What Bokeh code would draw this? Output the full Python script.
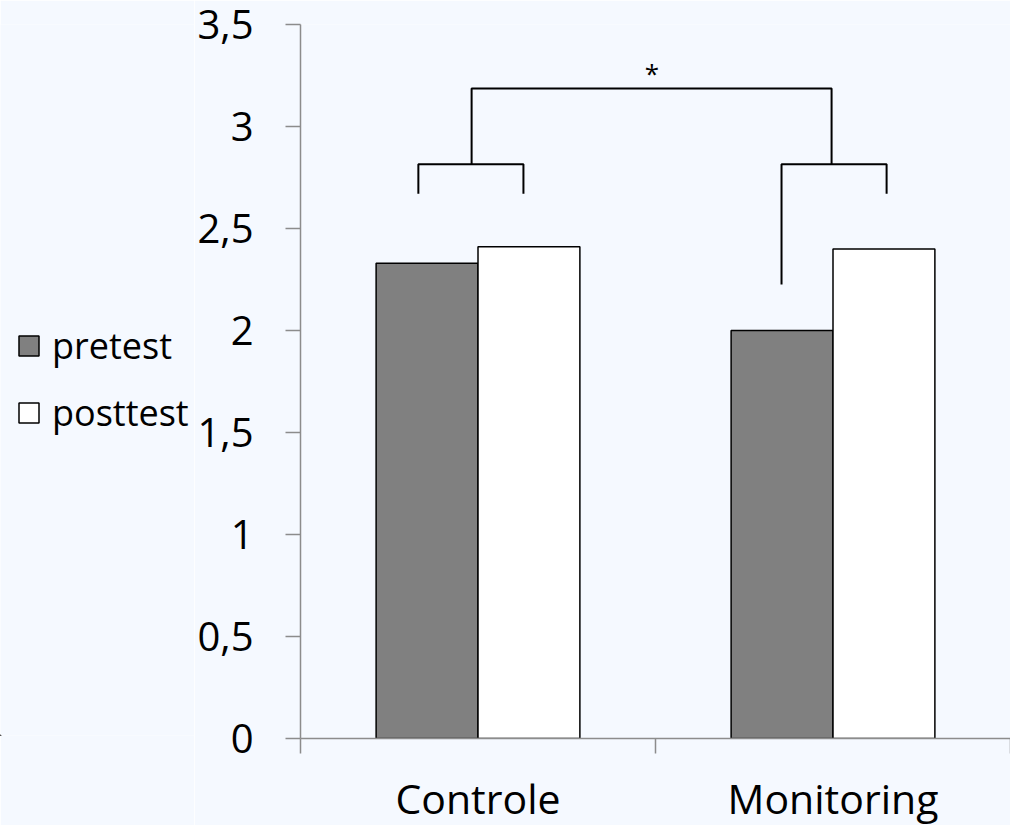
from bokeh.plotting import figure
from bokeh.layouts import row
from bokeh.models import FixedTicker, Legend, LegendItem, Range1d, ColumnDataSource
from bokeh.embed import file_html
from bokeh.resources import INLINE
from bokeh.core.properties import value

# ---- data ----
categories = ["Controle", "Monitoring"]
series = ["pretest", "posttest"]
pretest = [2.33, 2.00]
posttest = [2.41, 2.40]
y_ticks = [0, 0.5, 1, 1.5, 2, 2.5, 3, 3.5]
y_tick_labels = ["0", "0,5", "1", "1,5", "2", "2,5", "3", "3,5"]

# significance brackets (data units)
bracket_xs = [[0.332, 0.332, 0.628, 0.628],
              [1.355, 1.355, 1.651, 1.651],
              [0.482, 0.482, 1.496, 1.496]]
bracket_ys = [[2.67, 2.815, 2.815, 2.67],
              [2.225, 2.815, 2.815, 2.67],
              [2.815, 3.186, 3.186, 2.815]]
star_x = [0.99]
star_y = [3.26]
star_text = ["*"]

FONT = "Open Sans"
BG = "#f5f9ff"
AXIS = "#8c8c8c"
PRE_COLOR = "#808080"
POST_COLOR = "white"

centers = [i + 0.5 for i in range(len(categories))]
bar_w = 0.287
off = 0.1435

p = figure(frame_width=710, frame_height=714, output_backend="svg",
           toolbar_location=None, x_range=Range1d(0, 2), y_range=Range1d(0, 3.5),
           min_border_left=103, min_border_top=24, min_border_right=0,
           min_border_bottom=0)
p.background_fill_color = BG
p.border_fill_color = BG
p.outline_line_color = None
p.xgrid.visible = False
p.ygrid.visible = False

src_pre = ColumnDataSource(dict(x=[c - off for c in centers], top=pretest))
src_post = ColumnDataSource(dict(x=[c + off for c in centers], top=posttest))
p.vbar(x="x", top="top", width=bar_w, source=src_pre,
       fill_color=PRE_COLOR, line_color="black", line_width=1.5)
p.vbar(x="x", top="top", width=bar_w, source=src_post,
       fill_color=POST_COLOR, line_color="black", line_width=1.5)

p.multi_line(xs=bracket_xs, ys=bracket_ys, line_color="black", line_width=2)
p.text(x=star_x, y=star_y, text=star_text, text_font=value(FONT),
       text_font_size="26px", text_align="center", text_baseline="middle",
       text_color="black")

# x axis
xa = p.xaxis[0]
xa.ticker = FixedTicker(ticks=centers, minor_ticks=[0, 1, 2])
xa.major_label_overrides = {c: n for c, n in zip(centers, categories)}
xa.major_tick_out = 0
xa.major_tick_in = 0
xa.minor_tick_out = 15
xa.minor_tick_in = 0
xa.minor_tick_line_color = AXIS
xa.minor_tick_line_width = 1.5
xa.axis_line_color = AXIS
xa.axis_line_width = 1.5
xa.major_label_text_font = FONT
xa.major_label_text_font_size = "41px"
xa.major_label_text_color = "black"
xa.major_label_standoff = 16

# y axis
ya = p.yaxis[0]
ya.ticker = FixedTicker(ticks=y_ticks, minor_ticks=[])
ya.major_label_overrides = {t: l for t, l in zip(y_ticks, y_tick_labels)}
ya.major_tick_out = 15
ya.major_tick_in = 0
ya.major_tick_line_color = AXIS
ya.major_tick_line_width = 1.5
ya.axis_line_color = AXIS
ya.axis_line_width = 1.5
ya.major_label_text_font = FONT
ya.major_label_text_font_size = "40px"
ya.major_label_text_color = "black"
ya.major_label_standoff = 32

# legend panel (separate figure on the left); its bars share the data
# sources but lie outside its view, so only the legend is visible
lf = figure(width=194, height=825, output_backend="svg", toolbar_location=None,
            x_range=Range1d(10, 11), y_range=Range1d(10, 11), min_border=0)
lf.axis.visible = False
lf.grid.visible = False
lf.outline_line_color = None
lf.background_fill_color = BG
lf.border_fill_color = BG
lr_pre = lf.vbar(x="x", top="top", width=bar_w, source=src_pre,
                 fill_color=PRE_COLOR, line_color="black", line_width=1.5)
lr_post = lf.vbar(x="x", top="top", width=bar_w, source=src_post,
                  fill_color=POST_COLOR, line_color="black", line_width=1.5)

legend = Legend(items=[LegendItem(label=series[0], renderers=[lr_pre]),
                       LegendItem(label=series[1], renderers=[lr_post])],
                location=(16, 298), orientation="vertical",
                glyph_width=25, glyph_height=25, label_standoff=11,
                label_height=44, spacing=18, padding=0, margin=0,
                label_text_font=FONT, label_text_font_size="36px",
                label_text_color="black",
                border_line_color=None, background_fill_alpha=0)
lf.add_layout(legend)

layout = row(lf, p)
open("out.html", "w").write(file_html(layout, INLINE))
